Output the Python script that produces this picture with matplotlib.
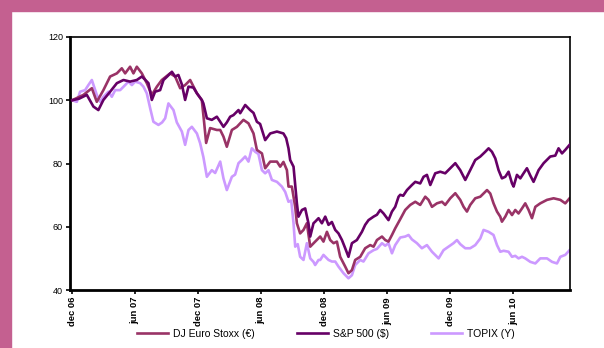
import matplotlib
matplotlib.use("Agg")
import matplotlib.pyplot as plt
from matplotlib.patches import Rectangle

plt.rcParams['font.family'] = ['Liberation Sans', 'DejaVu Sans']

# months since dec 06
dj_t = [0, 1.08, 1.88, 2.35, 2.98, 3.62, 4.26, 4.73, 5.05, 5.52, 5.84, 6.16, 6.64, 7.11, 7.59,
        8.07, 8.54, 9.33, 9.81, 10.29, 10.76, 11.24, 11.88, 12.35, 12.57, 12.76, 13.14, 13.78,
        14.10, 14.41, 14.73, 15.21, 15.69, 16.31, 16.79, 17.27, 17.59, 18.07, 18.38, 18.86,
        19.50, 19.81, 20.12, 20.45, 20.60, 20.92, 21.24, 21.40, 21.71, 22.03, 22.35, 22.67,
        23.14, 23.62, 23.93, 24.26, 24.57, 24.89, 25.21, 25.52, 26.00, 26.31, 26.64, 26.95,
        27.43, 27.90, 28.38, 28.70, 29.02, 29.50, 29.81, 30.12, 30.45, 30.76, 31.24, 31.71,
        32.19, 32.67, 33.14, 33.62, 33.93, 34.26, 34.73, 35.21, 35.52, 36.00, 36.48, 36.95,
        37.27, 37.59, 37.90, 38.38, 38.86, 39.50, 39.81, 40.12, 40.45, 40.76, 40.92, 41.24,
        41.55, 41.88, 42.19, 42.50, 42.83, 43.14, 43.46, 43.78, 44.10, 44.57, 45.21, 45.84,
        46.48, 46.95, 47.36]
dj_v = [100.0, 101.7, 103.8, 99.5, 103.2, 107.5, 108.5, 110.1, 108.5, 110.6, 108.5, 110.6, 108.5,
        105.4, 101.7, 104.3, 106.4, 108.5, 107.5, 103.8, 104.8, 106.4, 102.2, 100.0, 93.0, 86.5,
        91.2, 90.6, 90.6, 88.5, 85.3, 90.6, 91.6, 93.8, 92.7, 89.5, 84.3, 83.2, 78.5, 80.6,
        80.6, 79.0, 80.5, 77.9, 72.7, 72.7, 66.3, 61.1, 57.9, 59.0, 61.1, 53.7,
        55.3, 56.9, 55.3, 58.4, 55.8, 54.8, 55.3, 50.5, 47.4, 45.3, 46.3, 49.5,
        50.5, 53.2, 54.2, 53.7, 55.8, 56.9, 55.8, 55.3, 57.4, 59.5, 62.4, 65.3,
        66.9, 67.9, 66.9, 69.5, 68.5, 66.3, 67.4, 67.9, 66.9, 69.0, 70.6, 68.5,
        66.3, 64.8, 66.9, 69.0, 69.5, 71.6, 70.5, 67.4, 64.8, 63.2, 61.6, 63.2,
        65.3, 63.7, 65.3, 64.2, 65.8, 67.4, 65.3, 62.7, 66.3, 67.4, 68.5, 69.0,
        68.5, 67.4, 69.0]

sp_t = [0, 0.67, 1.4, 2.03, 2.5, 2.98, 3.62, 4.26, 4.89, 5.52, 6.16, 6.64, 6.95, 7.27, 7.59, 7.9,
        8.38, 8.7, 9.05, 9.5, 9.81, 10.12, 10.45, 10.76, 11.08, 11.55, 11.88, 12.35, 12.5, 12.83,
        13.3, 13.78, 14.1, 14.41, 14.73, 15.05, 15.36, 15.84, 16.0, 16.48, 16.95, 17.27, 17.59,
        17.9, 18.38, 18.86, 19.5, 20.12, 20.38, 20.6, 20.76, 21.08, 21.4, 21.55, 21.88, 22.19,
        22.5, 22.67, 22.98, 23.14, 23.46, 23.78, 24.1, 24.41, 24.73, 25.05, 25.36, 25.69, 26.0,
        26.31, 26.64, 27.11, 27.59, 27.9, 28.22, 28.7, 29.02, 29.33, 29.65, 30.12, 30.45, 30.76,
        31.08, 31.24, 31.52, 31.88, 32.35, 32.67, 33.14, 33.46, 33.78, 34.1, 34.57, 35.05, 35.52,
        36.0, 36.48, 36.95, 37.43, 37.9, 38.38, 38.86, 39.33, 39.65, 39.97, 40.29, 40.6, 40.92,
        41.24, 41.55, 41.88, 42.03, 42.35, 42.67, 42.98, 43.3, 43.62, 43.93, 44.41, 44.89, 45.52,
        46.0, 46.31, 46.64, 46.95, 47.36]
sp_v = [100.0, 100.5, 101.7, 98.0, 96.9, 100.1, 102.7, 105.4, 106.4, 105.9, 106.4, 107.5, 106.5,
        105.4, 100.1, 102.7, 103.2, 106.4, 107.5, 109.0, 107.5, 108.0, 105.0, 100.1, 104.3, 104.0,
        102.2, 100.1, 99.0, 94.3, 93.8, 94.8, 93.2, 91.6, 93.0, 94.8, 95.3, 96.9, 95.9, 98.5,
        96.9, 96.0, 93.2, 92.5, 87.4, 89.5, 90.1, 89.5, 88.0, 84.8, 81.1, 79.0, 67.4, 63.2,
        65.3, 65.8, 61.1, 56.9, 61.1, 61.6, 62.7, 61.1, 63.2, 60.6, 61.5, 59.0, 57.9, 55.8,
        53.2, 50.5, 54.8, 55.8, 58.4, 60.6, 62.1, 63.2, 63.8, 65.3, 64.2, 62.1, 64.8, 66.3,
        69.5, 70.1, 69.8, 71.6, 73.2, 74.2, 73.7, 75.8, 76.4, 73.2, 76.9, 77.4, 76.9, 78.5,
        80.1, 77.9, 74.8, 77.9, 81.1, 82.2, 83.7, 84.8, 83.7, 81.6, 77.9, 75.3, 75.8, 77.4,
        73.7, 72.7, 76.4, 75.3, 76.9, 78.5, 76.2, 74.2, 77.9, 80.1, 82.2, 82.5, 84.8, 83.2,
        84.3, 85.9]

tp_t = [0, 0.45, 0.76, 1.24, 1.55, 1.88, 2.35, 2.67, 2.98, 3.46, 3.78, 4.1, 4.57, 5.05, 5.36,
        5.69, 6.0, 6.48, 6.79, 7.11, 7.43, 7.74, 8.22, 8.57, 8.86, 9.17, 9.65, 9.97, 10.45,
        10.76, 11.08, 11.4, 11.88, 12.19, 12.5, 12.83, 13.3, 13.62, 14.1, 14.41, 14.73, 15.21,
        15.52, 15.84, 16.16, 16.48, 16.79, 17.11, 17.43, 17.74, 18.07, 18.38, 18.7, 19.02,
        19.5, 19.97, 20.29, 20.6, 20.86, 21.08, 21.24, 21.48, 21.71, 22.03, 22.35, 22.67,
        22.98, 23.14, 23.46, 23.62, 23.93, 24.41, 24.73, 25.05, 25.36, 25.84, 26.31, 26.64,
        26.95, 27.43, 27.74, 28.22, 28.7, 29.02, 29.5, 29.81, 30.12, 30.45, 30.76, 31.24,
        31.71, 32.03, 32.35, 32.83, 33.3, 33.78, 34.26, 34.89, 35.36, 35.84, 36.31, 36.64,
        36.95, 37.43, 37.9, 38.38, 38.86, 39.17, 39.65, 40.12, 40.45, 40.76, 41.08, 41.55,
        41.88, 42.19, 42.5, 42.83, 43.14, 43.62, 44.1, 44.57, 45.21, 45.69, 46.16, 46.48,
        46.95, 47.36]
tp_v = [100.0, 99.5, 102.7, 103.2, 104.8, 106.4, 101.7, 99.5, 101.1, 102.7, 101.1, 103.2, 103.2,
        104.8, 105.9, 104.8, 105.9, 105.4, 104.3, 102.2, 97.5, 93.2, 92.2, 93.0, 94.3, 99.0,
        96.9, 93.0, 90.1, 85.9, 90.6, 91.6, 89.5, 86.4, 82.0, 75.8, 77.9, 77.0, 80.6, 75.3,
        71.6, 75.8, 76.5, 80.1, 81.1, 82.2, 80.6, 84.8, 83.7, 83.0, 77.9, 76.9, 77.9, 74.8,
        74.2, 72.7, 71.0, 67.9, 68.3, 61.1, 53.7, 54.5, 50.5, 49.5, 54.8, 50.0,
        48.9, 47.9, 49.5, 49.5, 51.1, 49.5, 49.0, 49.0, 47.4, 45.3, 43.7, 44.7,
        47.9, 49.5, 49.0, 51.6, 52.6, 53.0, 54.8, 54.0, 54.8, 51.6, 54.2, 56.6,
        56.9, 57.4, 56.0, 54.8, 53.2, 54.2, 52.1, 50.0, 52.6, 53.7, 54.8, 55.8,
        54.5, 53.2, 53.2, 54.2, 56.3, 59.0, 58.4, 57.4, 54.2, 52.1, 52.4, 52.1,
        50.5, 50.8, 50.0, 50.5, 50.0, 48.9, 48.4, 50.0, 50.0, 48.9, 48.4, 50.5,
        51.1, 52.6]

tick_months = [0, 6, 12, 18, 24, 30, 36, 42]
tick_labels = ["dec 06", "jun 07", "dec 07", "jun 08", "dec 08", "jun 09", "dec 09", "jun 10"]
names = ["DJ Euro Stoxx (€)", "S&P 500 ($)", "TOPIX (Y)"]
colors = ["#993366", "#660066", "#CC99FF"]

fig = plt.figure(figsize=(6.04, 3.48), dpi=100, facecolor="white")
# pink frame on top and left
fig.patches.append(Rectangle((0, 1 - 11 / 348), 1, 11 / 348, transform=fig.transFigure,
                             color="#C46090", zorder=0))
fig.patches.append(Rectangle((0, 0), 11 / 604, 1, transform=fig.transFigure,
                             color="#C46090", zorder=0))

ax = fig.add_axes([70 / 604, 1 - 290 / 348, 500 / 604, 253 / 348])
ax.plot(tp_t, tp_v, color=colors[2], lw=1.9, zorder=1)
ax.plot(dj_t, dj_v, color=colors[0], lw=1.9, zorder=2)
ax.plot(sp_t, sp_v, color=colors[1], lw=1.9, zorder=3)

ax.set_xlim(-0.2, 47.4)
ax.set_ylim(40, 120)
ax.set_yticks([40, 60, 80, 100, 120])
ax.set_xticks(tick_months)
ax.set_xticklabels(tick_labels, rotation=90, fontsize=6.8, fontweight="bold")
ax.tick_params(axis="y", labelsize=6.5, length=3, width=1.2, pad=2)
ax.tick_params(axis="x", length=3, width=1.2, pad=2)
for s in ["left", "bottom"]:
    ax.spines[s].set_linewidth(2)
for s in ["top", "right"]:
    ax.spines[s].set_linewidth(1.2)

handles = [plt.Line2D([], [], color=c, lw=1.9) for c in colors]
fig.legend(handles, names, loc="center", bbox_to_anchor=(326 / 604, 1 - 334 / 348), ncol=3,
           frameon=False, fontsize=7.5, handlelength=3, columnspacing=4, handletextpad=0.5)

fig.savefig("out.png", dpi=100)
